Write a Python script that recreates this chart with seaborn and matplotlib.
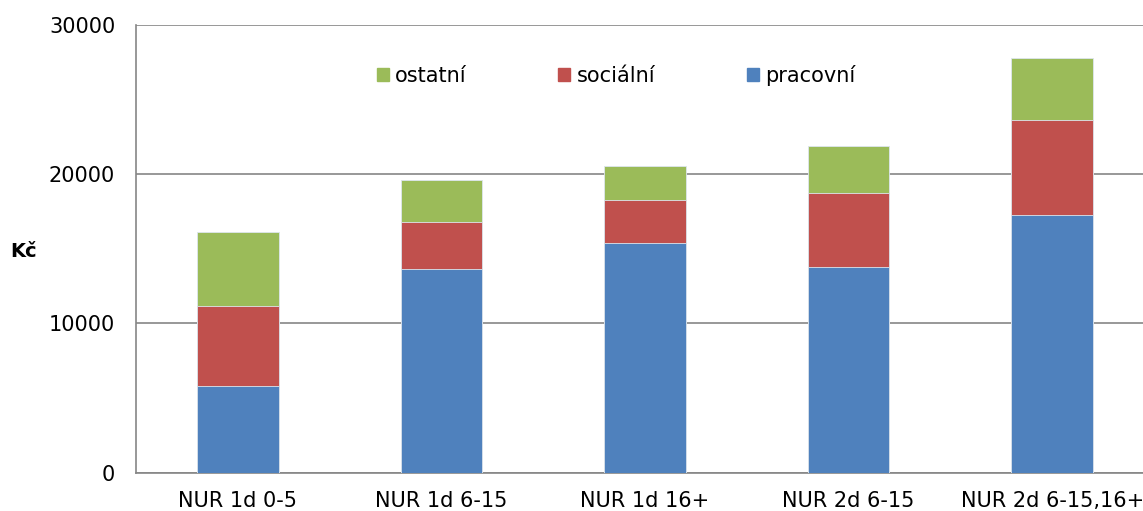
import matplotlib
matplotlib.use("Agg")
import matplotlib.pyplot as plt
from matplotlib.patches import Patch
import seaborn as sns
import pandas as pd
import numpy as np

# Data
categories = ["NUR 1d 0-5", "NUR 1d 6-15", "NUR 1d 16+", "NUR 2d 6-15", "NUR 2d 6-15,16+"]
pracovni = [5830, 13650, 15410, 13810, 17250]
socialni = [5360, 3170, 2890, 4935, 6410]
ostatni = [4960, 2800, 2280, 3130, 4135]

colors = {"pracovní": "#4F81BD", "sociální": "#C0504D", "ostatní": "#9BBB59"}

df = pd.DataFrame({
    "kategorie": categories,
    "pracovní": pracovni,
    "sociální": socialni,
    "ostatní": ostatni,
})
# cumulative heights for stacking
df["c_prac"] = df["pracovní"]
df["c_soc"] = df["c_prac"] + df["sociální"]
df["c_ost"] = df["c_soc"] + df["ostatní"]

sns.set_style("white")
plt.rcParams['font.family'] = ['DejaVu Sans']
plt.rcParams['text.color'] = 'black'
plt.rcParams['axes.labelcolor'] = 'black'

fig = plt.figure(figsize=(11.43, 5.11), dpi=100)
ax = fig.add_axes([136 / 1143, 38.3 / 511, 1018 / 1143, 447.7 / 511])

# draw tallest first so the lower segments sit on top
for col, name in [("c_ost", "ostatní"), ("c_soc", "sociální"), ("c_prac", "pracovní")]:
    sns.barplot(data=df, x="kategorie", y=col, color=colors[name],
                width=0.4, saturation=1, ax=ax, zorder=3,
                edgecolor="#dde6ee", linewidth=0.6)

ax.set_xlim(-0.5, 4.5)
ax.set_ylim(0, 30000)
ax.set_yticks([0, 10000, 20000, 30000])
ax.yaxis.grid(True, color="#868686", linewidth=1.2, zorder=0)
ax.set_axisbelow(True)

for s in ["top", "right"]:
    ax.spines[s].set_visible(False)
for s in ["left", "bottom"]:
    ax.spines[s].set_color("#868686")
    ax.spines[s].set_linewidth(1.2)

ax.tick_params(axis="y", length=7, width=1.2, color="#868686", labelcolor="black",
               pad=8, labelsize=15)
ax.tick_params(axis="x", which="major", length=0, pad=13, labelsize=15, labelcolor="black")
ax.set_xticks(np.arange(-0.5, 5, 1), minor=True)
ax.tick_params(axis="x", which="minor", length=7, width=1.2, color="#868686")

ax.set_xlabel("")
ax.set_ylabel("Kč", fontsize=14, fontweight="bold", rotation=0, ha="center", va="center")
ax.yaxis.set_label_coords(-0.11, 0.493)

handles = [Patch(color=colors[n], label=n) for n in ["ostatní", "sociální", "pracovní"]]
fig.legend(handles=handles, loc="center", bbox_to_anchor=(616 / 1143, 1 - 75 / 511),
           ncol=3, frameon=False, fontsize=15, handlelength=0.58, handleheight=0.58,
           handletextpad=0.3, columnspacing=4.4)

fig.savefig("out.png", dpi=100)
